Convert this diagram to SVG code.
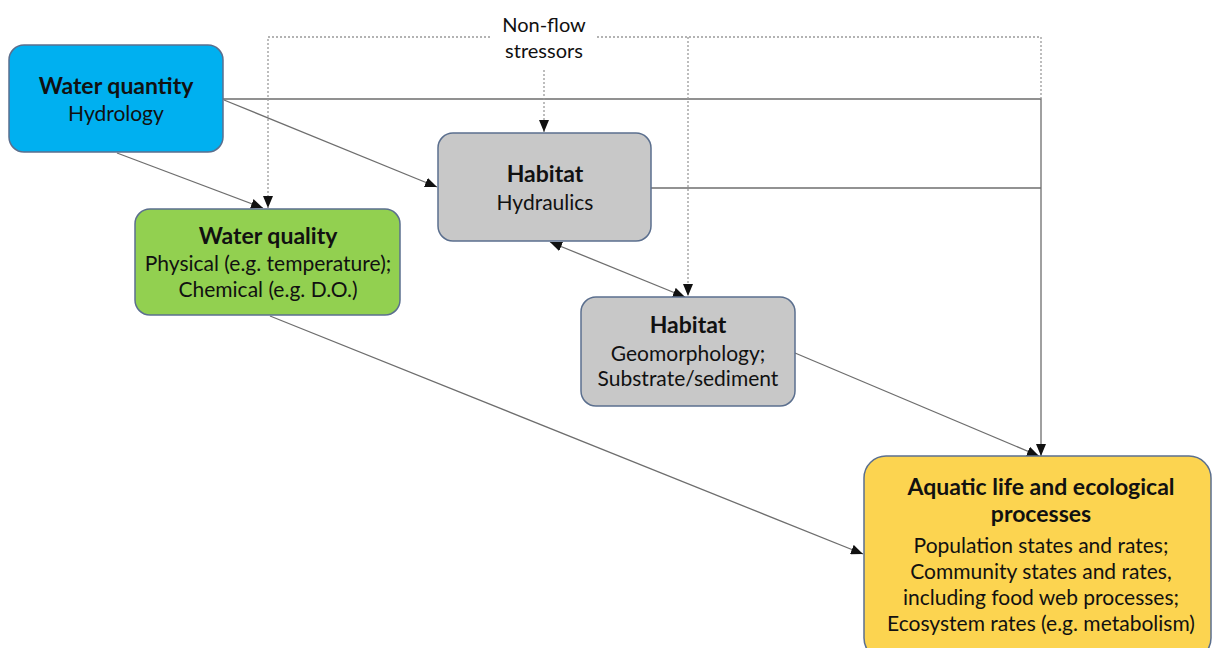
<svg xmlns="http://www.w3.org/2000/svg" width="1214" height="648" viewBox="0 0 1214 648">
<defs>
<style>
.box{stroke:#5b6f8e;stroke-width:1.5}
.t{font-family:Lato,"Liberation Sans",sans-serif;fill:#111;text-anchor:middle}
.b{font-weight:bold;font-size:23px}
.r{font-size:21px}
.n{font-size:20px}
.c{fill:none;stroke:#6e6e6e;stroke-width:1.3}
.d{fill:none;stroke:#9a9a9a;stroke-width:1.3;stroke-dasharray:2 2}
</style>
<marker id="a" viewBox="0 0 12 10" refX="12" refY="5" markerWidth="12" markerHeight="10" markerUnits="userSpaceOnUse" orient="auto-start-reverse">
<path d="M0,0 L12,5 L0,10 z" fill="#111"/>
</marker>
</defs>
<rect width="1214" height="648" fill="#fff"/>
<g id="connectors">
<polyline class="c" points="223,99 1041,99 1041,456" marker-end="url(#a)"/>
<polyline class="c" points="651,188 1041,188"/>
<line class="c" x1="224" y1="100" x2="437" y2="187" marker-end="url(#a)"/>
<line class="c" x1="117" y1="153" x2="263" y2="208" marker-end="url(#a)"/>
<line class="c" x1="550" y1="242" x2="685" y2="297" marker-start="url(#a)" marker-end="url(#a)"/>
<line class="c" x1="270" y1="316" x2="863" y2="554" marker-end="url(#a)"/>
<line class="c" x1="795" y1="353" x2="1039" y2="456" marker-end="url(#a)"/>
<polyline class="d" points="490,37 268,37 268,208" marker-end="url(#a)"/>
<polyline class="d" points="597,37 1041,37 1041,99"/>
<line class="d" x1="688" y1="37" x2="688" y2="296" marker-end="url(#a)"/>
<line class="d" x1="544" y1="70" x2="544" y2="132" marker-end="url(#a)"/>
</g>
<g id="nonflow">
<text class="t n" x="544" y="32">Non-flow</text>
<text class="t n" x="544" y="58">stressors</text>
</g>
<g id="water-quantity">
<rect class="box" x="9" y="45" width="214" height="107" rx="15" fill="#00b0f0"/>
<text class="t b" x="116" y="94">Water quantity</text>
<text class="t r" x="116" y="121">Hydrology</text>
</g>
<g id="habitat-hydraulics">
<rect class="box" x="438" y="133" width="213" height="108" rx="15" fill="#c8c8c8"/>
<text class="t b" x="545" y="182">Habitat</text>
<text class="t r" x="545" y="210">Hydraulics</text>
</g>
<g id="water-quality">
<rect class="box" x="135" y="209" width="265" height="106" rx="15" fill="#92d050"/>
<text class="t b" x="268" y="244">Water quality</text>
<text class="t r" x="268" y="271">Physical (e.g. temperature);</text>
<text class="t r" x="268" y="297">Chemical (e.g. D.O.)</text>
</g>
<g id="habitat-geomorphology">
<rect class="box" x="581" y="297" width="214" height="109" rx="15" fill="#c8c8c8"/>
<text class="t b" x="688" y="333">Habitat</text>
<text class="t r" x="688" y="361">Geomorphology;</text>
<text class="t r" x="688" y="386">Substrate/sediment</text>
</g>
<g id="aquatic-life">
<rect class="box" x="864" y="456" width="347" height="204" rx="22" fill="#fcd450"/>
<text class="t b" x="1041" y="495">Aquatic life and ecological</text>
<text class="t b" x="1041" y="522">processes</text>
<text class="t r" x="1041" y="553">Population states and rates;</text>
<text class="t r" x="1041" y="579">Community states and rates,</text>
<text class="t r" x="1041" y="605">including food web processes;</text>
<text class="t r" x="1041" y="631">Ecosystem rates (e.g. metabolism)</text>
</g>
</svg>
